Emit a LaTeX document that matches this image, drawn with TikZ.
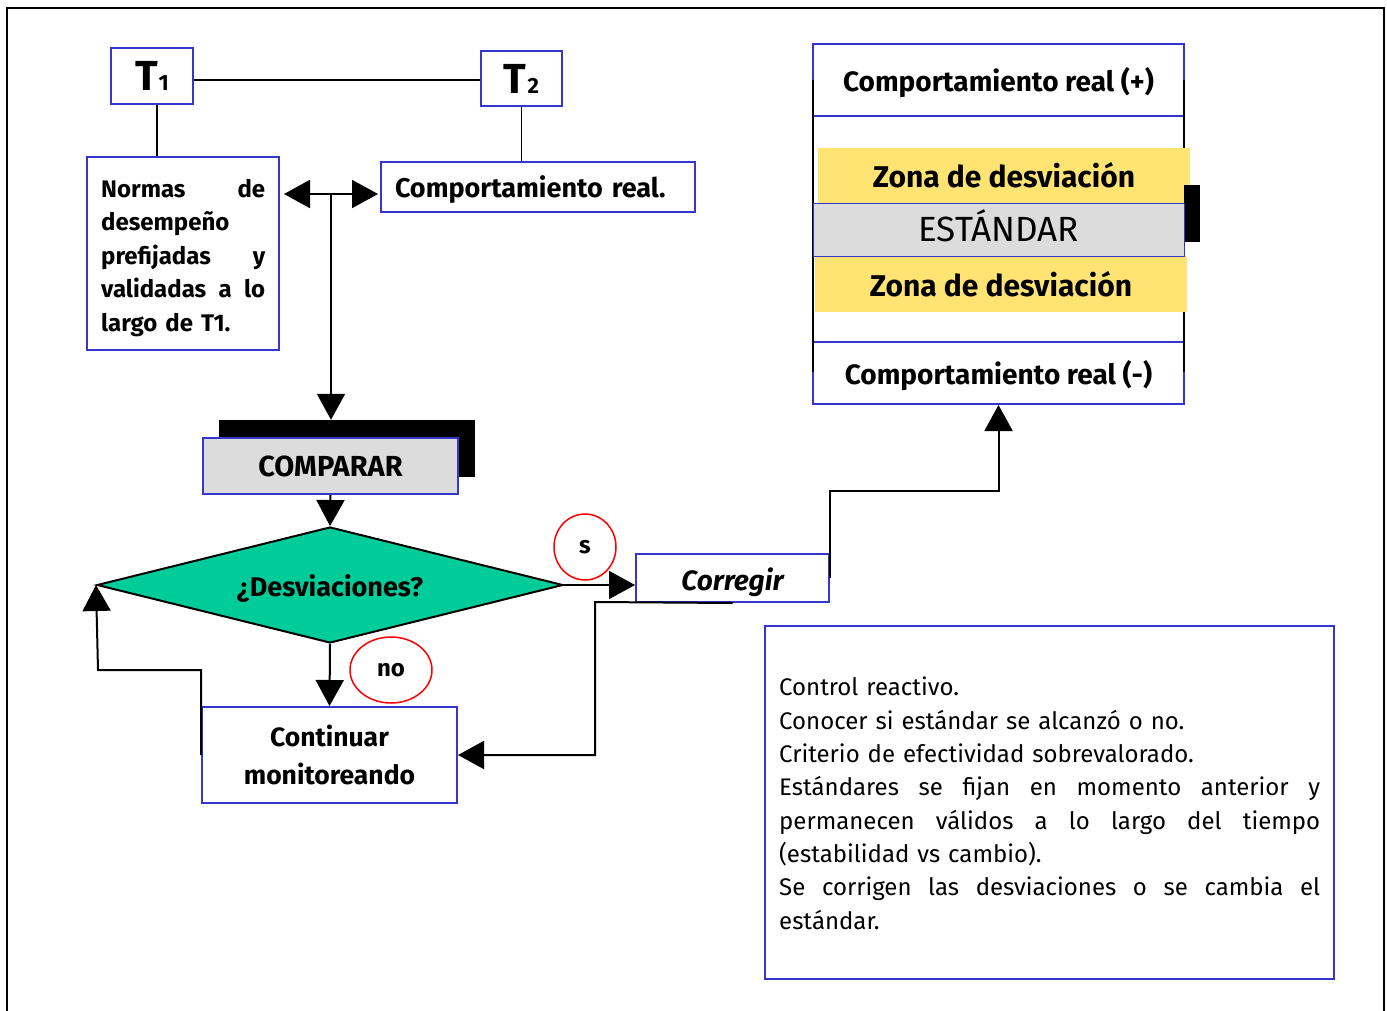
\documentclass[tikz,border=0pt]{standalone}
\usepackage{fontspec}
\setmainfont{Fira Sans}
\usetikzlibrary{arrows.meta,shapes.geometric}
\definecolor{bb}{HTML}{3636CC}
\definecolor{gr}{HTML}{DCDCDC}
\definecolor{teal}{HTML}{00CC99}
\definecolor{gold}{HTML}{FFCC00}
\newcommand\fb{\bfseries\fontsize{24}{33.5}\selectfont}
\newcommand\fr{\fontsize{24}{33.3}\selectfont}
\newcommand\jline[1]{\leavevmode\hbox to 541pt{#1}}
\newcommand\nline[1]{\leavevmode\hbox to 164pt{#1}}
\begin{document}
\begin{tikzpicture}[x=1pt,y=-1pt,
  box/.style={draw=bb, line width=2pt, fill=white, inner sep=0pt},
  conn/.style={draw=black, line width=2pt},
  arr/.style={conn, -{Triangle[width=28pt,length=26pt]}},
  darr/.style={conn, {Triangle[width=28pt,length=26pt]}-{Triangle[width=28pt,length=26pt]}},
  oval/.style={draw=red, line width=1.5pt, ellipse, inner sep=0pt, font=\fb},
  zonastyle/.style={fill=gold!55!white, inner sep=0pt, minimum width=372pt, font=\bfseries\fontsize{30}{30}\selectfont}]
\useasboundingbox (0,0) rectangle (1387,1011);
% outer frame
\draw[line width=1.5pt] (7,1011) -- (7,8) -- (1384,8) -- (1384,1011);

% T1, T2
\node[box, minimum width=82pt, minimum height=56pt] (t1) at (152,76)
  {\bfseries\fontsize{42}{42}\selectfont T\kern1pt{\fontsize{22}{22}\selectfont 1}};
\node[box, minimum width=81pt, minimum height=55pt] (t2) at (521.5,79)
  {\bfseries\fontsize{42}{42}\selectfont T\kern1pt{\fontsize{22}{22}\selectfont 2}};

% Normas
\node[box, minimum width=192pt, minimum height=193pt] (normas) at (183,253.5) {};
\node[inner sep=0pt, anchor=north west, text width=164pt, align=left, font=\fb] (normtxt) at (101,179)
  {\nline{Normas\hfill de}\\ desempeño\\ \nline{prefijadas\hfill y}\\ \nline{validadas\hfill a\hfill lo}\\ largo de T1.};

% Comportamiento real.
\node[box, minimum width=314pt, minimum height=50pt, text width=300pt, text height=22pt, text depth=0pt, align=left, font=\bfseries\fontsize{27}{27}\selectfont] (real) at (538,187)
  {\hspace*{7pt}Comportamiento real.};

% connectors top
\draw[line width=1.5pt] ([yshift=-4pt]t1.east) -- ([yshift=-4pt]t1.east -| t2.west);
\draw[line width=1.5pt] ([xshift=5pt]t1.south) -- ([xshift=5pt]t1.south |- normas.north);
\draw[line width=1.5pt] (t2.south) -- (t2.south |- real.north);

% COMPARAR
\node[fill=black, minimum width=256pt, minimum height=57pt, inner sep=0pt] (cshadow) at (347,448.5) {};
\node[box, fill=gr, minimum width=255pt, minimum height=56pt, font=\bfseries\fontsize{29}{29}\selectfont] (comparar) at (330.5,466) {COMPARAR};

\coordinate (jn) at (331,194);
\draw[darr] ([xshift=4pt]normas.east |- jn) -- ([xshift=-2pt]real.west |- jn);
\draw[arr] (jn) -- (jn |- cshadow.north);

% diamond
\node[diamond, shape aspect=4.02, draw=black, line width=2pt, fill=teal, minimum width=466pt, minimum height=116pt, inner sep=0pt, text height=23.4pt, text depth=0pt, font=\bfseries\fontsize{27}{27}\selectfont] (dia) at (330,585) {¿Desviaciones?};
\draw[arr] (comparar.south) -- (dia.north);

% ovals
\node[oval, minimum width=62pt, minimum height=66pt] (os) at (585,547) {s};
\node[oval, minimum width=82pt, minimum height=66pt] (ono) at (391,670) {no};

% Corregir
\node[box, minimum width=193pt, minimum height=48pt, text height=24pt, text depth=0pt, font=\bfseries\itshape\fontsize{28}{28}\selectfont] (corr) at (732.5,578) {Corregir};

% Continuar
\node[box, minimum width=255pt, minimum height=96pt, align=center, font=\bfseries\fontsize{26.5}{38}\selectfont] (cont) at (329.5,755) {Continuar\\ monitoreando};

% right panel
\node[box, minimum width=371pt, minimum height=72pt, text height=23.4pt, text depth=0pt, font=\bfseries\fontsize{28}{28}\selectfont] (plus) at (998.5,80) {Comportamiento real (+)};
\node[box, minimum width=371pt, minimum height=62pt, text height=23.4pt, text depth=0pt, font=\bfseries\fontsize{28}{28}\selectfont] (minus) at (998.5,373) {Comportamiento real (-)};
\draw[line width=2pt] (813,80) -- (813,372);
\draw[line width=2pt] (1184,80) -- (1184,372);
\node[zonastyle, minimum height=55pt] (z1) at (1004,175.5) {\raisebox{-2pt}{Zona de desviación}};
\node[zonastyle, minimum height=56pt] (z2) at (1001,284) {\raisebox{-1pt}{Zona de desviación}};
\node[fill=black, minimum width=16pt, minimum height=57pt, inner sep=0pt] (eshadow) at (1192,213.5) {};
\node[fill=gr, draw=bb, line width=0.6pt, minimum width=371pt, minimum height=53pt, inner sep=0pt, text height=26pt, text depth=1pt, font=\fontsize{35}{35}\selectfont] (est) at (998.5,229.5) {ESTÁNDAR};

% connectors lower
\draw[arr] (dia.east) -- (dia.east -| corr.west);
\coordinate (cb) at (998.5,491);
\draw[arr] (corr.east) |- (cb) -- (minus.south);
\coordinate (cl) at (595,602);
\draw[arr] (corr.south) -- (cl) |- (cont.east);
\draw[arr] (dia.south) -- (cont.north);
\coordinate (lp) at (98,670);
\draw[arr] (cont.west) -- (cont.west |- lp) -- (lp) -- (dia.west);

% notes
\node[box, minimum width=569pt, minimum height=353pt] (notes) at (1049.5,802.5) {};
\node[inner sep=0pt, anchor=north west, text width=541pt, align=left, font=\fr] (ntxt) at (779,677)
  {Control reactivo.\\
   Conocer si estándar se alcanzó o no.\\
   Criterio de efectividad sobrevalorado.\\
   \jline{Estándares\hfill se\hfill fijan\hfill en\hfill momento\hfill anterior\hfill y}\\
   \jline{permanecen\hfill válidos\hfill a\hfill lo\hfill largo\hfill del\hfill tiempo}\\
   (estabilidad vs cambio).\\
   \jline{Se\hfill corrigen\hfill las\hfill desviaciones\hfill o\hfill se\hfill cambia\hfill el}\\
   estándar.};
\end{tikzpicture}
\end{document}
